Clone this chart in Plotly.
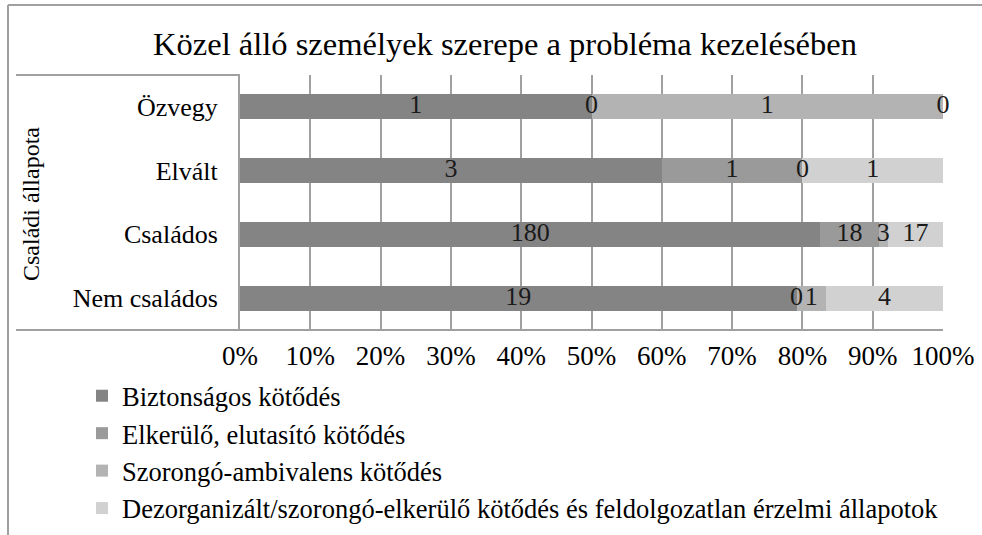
import plotly.graph_objects as go

categories = ["Nem családos", "Családos", "Elvált", "Özvegy"]
series_names = [
    "Biztonságos kötődés",
    "Elkerülő, elutasító kötődés",
    "Szorongó-ambivalens kötődés",
    "Dezorganizált/szorongó-elkerülő kötődés és feldolgozatlan érzelmi állapotok",
]
biztonsagos = [19, 180, 3, 1]
elkerulo = [0, 18, 1, 0]
szorongo = [1, 3, 0, 1]
dezorganizalt = [4, 17, 1, 0]
series_values = [biztonsagos, elkerulo, szorongo, dezorganizalt]
colors = ["#848484", "#9a9a9a", "#b3b3b3", "#d1d1d1"]

FONT = "Liberation Serif"
W, H = 982, 535
L, R, T, B = 240, 943, 75, 330

fig = go.Figure()
for i, (name, vals) in enumerate(zip(series_names, series_values)):
    fig.add_trace(go.Bar(
        y=categories, x=vals, name=name, orientation="h",
        marker=dict(color=colors[i], line=dict(width=0)),
    ))

totals = [sum(s[j] for s in series_values) for j in range(len(categories))]
lx, ly, lt = [], [], []
for j, cat in enumerate(categories):
    cum = 0.0
    for vals in series_values:
        pct = vals[j] / totals[j] * 100
        lx.append(cum + pct / 2)
        ly.append(cat)
        lt.append(str(vals[j]))
        cum += pct
fig.add_trace(go.Scatter(
    x=lx, y=ly, text=lt, mode="text", showlegend=False, hoverinfo="skip",
    cliponaxis=False,
    textfont=dict(family=FONT, size=26, color="#1a1a1a"),
))

def px_x(px):
    return (px - L) / (R - L)

def px_y(py):
    return (B - py) / (B - T)

line_col = "#a0a0a0"
shapes = [
    dict(type="line", xref="paper", yref="paper", x0=px_x(8), x1=px_x(990), y0=px_y(5), y1=px_y(5),
         line=dict(color=line_col, width=2)),
    dict(type="line", xref="paper", yref="paper", x0=px_x(8), x1=px_x(8), y0=px_y(5), y1=px_y(545),
         line=dict(color=line_col, width=2)),
    dict(type="line", xref="paper", yref="paper", x0=px_x(16), x1=px_x(240), y0=px_y(75), y1=px_y(75),
         line=dict(color=line_col, width=2)),
    dict(type="line", xref="paper", yref="paper", x0=px_x(16), x1=px_x(943), y0=px_y(330), y1=px_y(330),
         line=dict(color=line_col, width=2)),
]

fig.update_layout(
    width=W, height=H,
    margin=dict(l=L, r=W - R, t=T, b=H - B, autoexpand=False),
    paper_bgcolor="white", plot_bgcolor="white",
    barmode="stack", barnorm="percent", bargap=0.61,
    font=dict(family=FONT, size=26, color="#000000"),
    title=dict(text="Közel álló személyek szerepe a probléma kezelésében",
               x=505 / W, xanchor="center", y=1 - 44 / H, yanchor="middle",
               font=dict(family=FONT, size=32.5, color="#000000")),
    xaxis=dict(range=[0, 100], dtick=10, ticksuffix="%", showgrid=True, automargin=False,
               gridcolor=line_col, gridwidth=2, zeroline=False, showline=False,
               ticks="", ticklabelstandoff=7, tickfont=dict(family=FONT, size=27), fixedrange=True),
    yaxis=dict(showgrid=False, showline=True, linecolor=line_col, linewidth=2, automargin=False,
               ticks="", ticklabelstandoff=15, tickfont=dict(family=FONT, size=26), fixedrange=True,
               categoryorder="array", categoryarray=categories),
    shapes=shapes,
    legend=dict(xref="container", yref="container", x=82 / W, xanchor="left",
                y=1 - 372 / H, yanchor="top",
                orientation="v", traceorder="normal",
                font=dict(family=FONT, size=26.5, color="#000000"),
                bgcolor="rgba(0,0,0,0)"),
    annotations=[dict(text="Családi állapota", textangle=-90, xref="paper", yref="paper",
                      x=px_x(31), y=px_y(204), xanchor="center", yanchor="middle", showarrow=False,
                      font=dict(family=FONT, size=24, color="#000000"))],
)

fig.write_html("out.html", config={"displayModeBar": False},
               post_script="document.body.style.margin='0px';")
